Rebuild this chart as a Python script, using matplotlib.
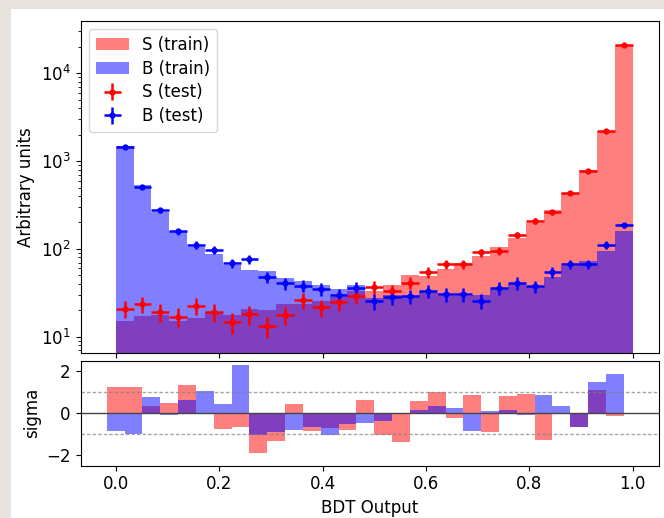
import numpy as np
import matplotlib
matplotlib.use("Agg")
import matplotlib.pyplot as plt
from matplotlib.patches import Rectangle

# 29 equal-width bins of the BDT response
bin_edges = np.linspace(0.0, 1.0, 30)

# Training samples (filled histograms)
s_train = [15.0, 17.4, 17.6, 15.0, 16.2, 19.2, 17.5, 20.9, 20.0, 23.3,
           23.8, 25.5, 28.3, 33.4, 33.0, 39.2, 49.9, 49.7, 59.1, 68.6,
           83.3, 104.0, 134.4, 195.7, 281.0, 436.0, 789.0, 2151.0, 21020.0]
b_train = [1481.0, 534.0, 262.0, 159.4, 104.4, 87.8, 65.4, 57.1, 55.5, 46.3,
           43.1, 39.1, 35.2, 39.3, 27.8, 30.1, 29.3, 32.2, 28.8, 29.3,
           29.8, 35.1, 39.8, 38.2, 48.3, 64.1, 72.1, 95.5, 160.4]

# Test samples (points with errors)
s_test = [20.7, 23.4, 19.0, 16.9, 22.6, 19.3, 14.6, 18.0, 13.2, 17.7,
          26.0, 21.6, 24.7, 29.1, 36.8, 33.2, 41.2, 54.1, 67.3, 66.8,
          91.4, 95.4, 144.0, 209.0, 261.0, 436.0, 771.0, 2203.0, 21000.0]
b_test = [1449.0, 512.0, 275.0, 158.0, 111.0, 98.0, 69.0, 77.0, 48.3, 40.6,
          38.1, 35.2, 29.6, 36.1, 25.3, 28.1, 29.1, 33.2, 30.6, 30.6,
          25.5, 35.6, 40.9, 37.5, 54.6, 66.8, 66.8, 111.0, 186.0]

# Per-bin pull (test vs. train) in units of sigma
s_sigma = [1.25, 1.25, 0.33, 0.47, 1.34, 0.0, -0.77, -0.68, -1.88, -1.33,
           0.44, -0.84, -0.73, -0.79, 0.63, -1.04, -1.36, 0.60, 1.00, -0.22,
           0.85, -0.88, 0.80, 0.92, -1.26, 0.0, -0.66, 1.11, -0.14]
b_sigma = [-0.85, -0.98, 0.76, -0.11, 0.63, 1.03, 0.43, 2.27, -1.03, -0.90,
           -0.81, -0.65, -1.03, -0.54, -0.49, -0.38, -0.03, 0.17, 0.32, 0.24,
           -0.85, 0.08, 0.17, -0.11, 0.85, 0.33, -0.65, 1.48, 1.88]

centers = 0.5 * (bin_edges[:-1] + bin_edges[1:])
width = np.diff(bin_edges)

plt.rcParams['font.family'] = ['DejaVu Sans']
plt.rcParams['font.size'] = 12

fig = plt.figure(figsize=(6.64, 5.18), dpi=100, facecolor='#e7e2dc')
fig.patches.append(Rectangle((11 / 664, 0), 1, 1 - 9 / 518, transform=fig.transFigure,
                             facecolor='white', edgecolor='none', zorder=-10))

W, H = 664, 518
left, right = 80.5 / W, 659 / W
ax = fig.add_axes([left, 1 - 352.7 / H, right - left, (352.7 - 20.7) / H])
axr = fig.add_axes([left, 1 - 465.7 / H, right - left, (465.7 - 361) / H], sharex=ax)

ax.hist(centers, bins=bin_edges, weights=s_train, histtype='stepfilled',
        color='r', alpha=0.5, log=True, label='S (train)')
ax.hist(centers, bins=bin_edges, weights=b_train, histtype='stepfilled',
        color='b', alpha=0.5, log=True, label='B (train)')
ax.errorbar(centers, s_test, xerr=width / 2, yerr=np.sqrt(s_test), fmt='o',
            color='r', ms=3.5, lw=1.8, label='S (test)')
ax.errorbar(centers, b_test, xerr=width / 2, yerr=np.sqrt(b_test), fmt='o',
            color='b', ms=3.5, lw=1.8, label='B (test)')
ax.set_ylim(6.58, 39700)
ax.set_ylabel('Arbitrary units')
ax.tick_params(labelbottom=False)

handles, labels = ax.get_legend_handles_labels()
order = [labels.index(l) for l in ['S (train)', 'B (train)', 'S (test)', 'B (test)']]
ax.legend([handles[i] for i in order], [labels[i] for i in order], loc='upper left',
          labelspacing=0.35)

axr.bar(bin_edges[:-1], s_sigma, width=width, color='r', alpha=0.5)
axr.bar(bin_edges[:-1], b_sigma, width=width, color='b', alpha=0.5)
axr.axhline(0, color='#444444', lw=1)
for v in (-1, 1):
    axr.axhline(v, color='gray', lw=1, ls=(0, (2.5, 1.5)), alpha=0.7)
axr.set_ylim(-2.5, 2.48)
axr.set_yticks([-2, 0, 2])
axr.set_ylabel('sigma')
axr.set_xlabel('BDT Output')
axr.set_xticks([0.0, 0.2, 0.4, 0.6, 0.8, 1.0])

fig.savefig('out.png', dpi=100, facecolor=fig.get_facecolor())
